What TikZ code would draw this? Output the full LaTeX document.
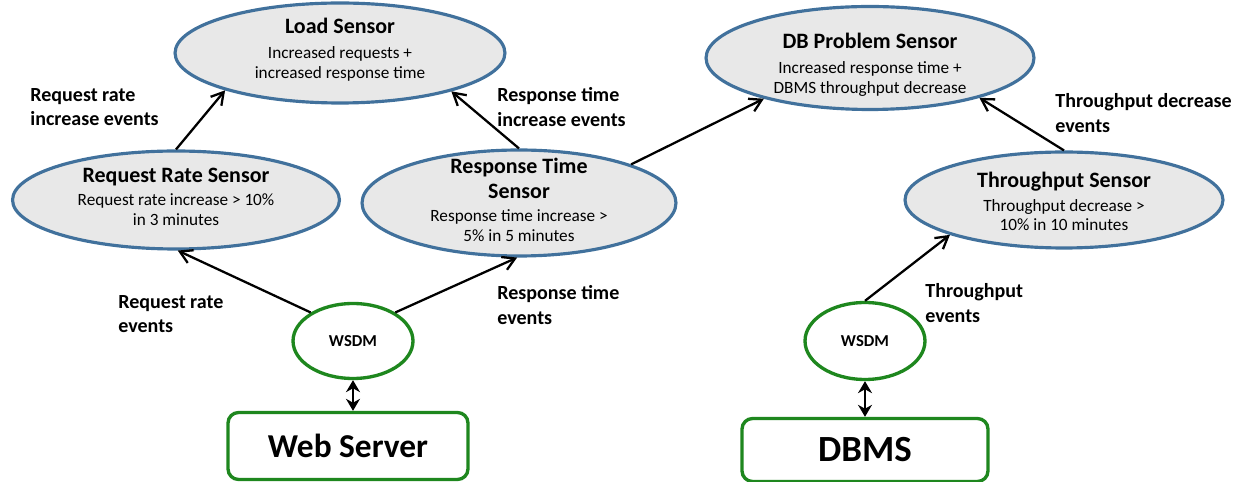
\documentclass[tikz,border=0pt]{standalone}
\usepackage{fontspec}
\setmainfont{Carlito}
\usetikzlibrary{shapes,arrows.meta}
\definecolor{sensorblue}{RGB}{65,113,156}
\definecolor{sensorgray}{RGB}{232,232,232}
\definecolor{wsdmgreen}{RGB}{30,135,30}
\newcommand{\sensortitle}[1]{{\bfseries\fontsize{12.5}{14}\selectfont #1}}

\begin{document}
\begin{tikzpicture}[x=0.02cm,y=-0.02cm,
	sensor/.style={ellipse,draw=sensorblue,line width=1.8pt,fill=sensorgray,inner sep=0pt},
	sensortext/.style={align=center,inner sep=0pt,yshift=2pt,font=\fontsize{9.8}{11.2}\selectfont},
	wsdm/.style={ellipse,draw=wsdmgreen,line width=1.9pt,fill=white,inner sep=0pt,minimum width=2.4cm,minimum height=1.5cm,font=\bfseries\fontsize{9.5}{11}\selectfont},
	server/.style={rectangle,rounded corners=6pt,draw=wsdmgreen,line width=1.9pt,fill=white,font=\bfseries\fontsize{19}{22}\selectfont},
	evlabel/.style={anchor=west,align=left,inner sep=0pt,font=\bfseries\fontsize{11.4}{14}\selectfont},
	evarrow/.style={-{Straight Barb[length=2.4mm,width=2.8mm]},line width=1.3pt},
	link/.style={{Stealth[length=2.4mm,width=2.8mm]}-{Stealth[length=2.4mm,width=2.8mm]},line width=1.3pt}]
		\useasboundingbox (0,0) rectangle (1241,482);
		% sensors
		\node (s1) [sensor,minimum width=6.6cm,minimum height=2cm,label={[sensortext]center:{\sensortitle{Load Sensor}\\[3pt] Increased requests +\\ increased response time}}] at (340,53) {};
		\node (s2) [sensor,minimum width=6.54cm,minimum height=1.96cm,label={[sensortext]center:{\sensortitle{Request Rate Sensor}\\[2pt] Request rate increase > 10\%\\ in 3 minutes}}] at (176,200) {};
		\node (s3) [sensor,minimum width=6.28cm,minimum height=2.12cm,label={[sensortext]center:{\sensortitle{Response Time}\\[3pt] \sensortitle{Sensor}\\[2pt] Response time increase >\\ 5\% in 5 minutes}}] at (519,203) {};
		\node (s4) [sensor,minimum width=6.56cm,minimum height=2.06cm,label={[sensortext,yshift=-6pt]center:{\sensortitle{DB Problem Sensor}\\[3pt] Increased response time +\\ DBMS throughput decrease}}] at (870,58) {};
		\node (s5) [sensor,minimum width=6.36cm,minimum height=1.92cm,label={[sensortext,yshift=-3pt]center:{\sensortitle{Throughput Sensor}\\[2pt] Throughput decrease >\\ 10\% in 10 minutes}}] at (1064,200) {};
		% monitors and servers
		\node (w1) [wsdm] at (353,341) {WSDM};
		\node (w2) [wsdm,minimum height=1.54cm] at (865,341) {WSDM};
		\node (b1) [server,minimum width=4.8cm,minimum height=1.34cm] at (348,446) {Web Server};
		\node (b2) [server,minimum width=4.92cm,minimum height=1.26cm,font=\bfseries\fontsize{21}{24}\selectfont] at (865,450) {DBMS};
		% event labels
		\node (e1) [evlabel] at (30,107) {Request rate\\increase events};
		\node (e2) [evlabel] at (497,107) {Response time\\increase events};
		\node (e3) [evlabel] at (1055,113) {Throughput decrease\\events};
		\node (e4) [evlabel] at (118,314) {Request rate\\events};
		\node (e5) [evlabel] at (497,305) {Response time\\events};
		\node (e6) [evlabel] at (925,303) {Throughput\\events};
		% connectors
		\path (w1.146) edge[evarrow] (s2.272);
		\path (w1.34) edge[evarrow] (s3.268);
		\path (s2.north) edge[evarrow] (s1.198);
		\path (s3.north) edge[evarrow] (s1.341);
		\path (s3.19) edge[evarrow] (s4.201);
		\path (s5.north) edge[evarrow] (s4.340);
		\path (w2.north) edge[evarrow] (s5.197);
		\draw [link] (w1.south) -- (w1.south |- b1.north);
		\draw [link] (w2.south) -- (w2.south |- b2.north);
	\end{tikzpicture}
\end{document}
